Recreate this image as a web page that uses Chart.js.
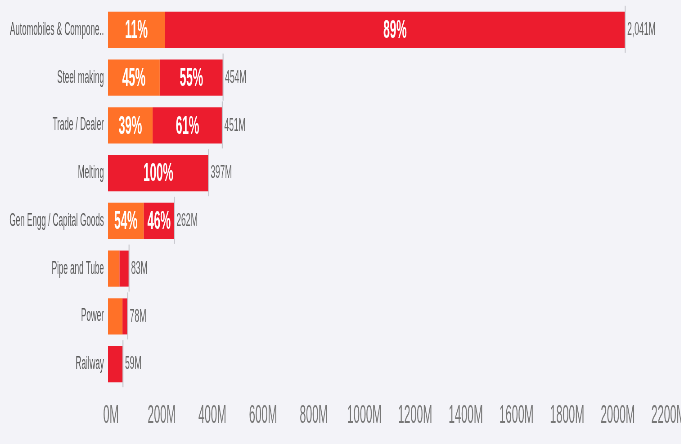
<!DOCTYPE html>
<html>
<head>
<meta charset="utf-8">
<script src="https://cdn.jsdelivr.net/npm/chart.js@4.4.1/dist/chart.umd.min.js"></script>
<style>
  html, body { margin: 0; padding: 0; background: #f3f3f8; overflow: hidden; }
  #wrap { width: 681px; height: 444px; overflow: hidden; }
  #sectors { transform-origin: 0 0; }
</style>
</head>
<body>
<div id="wrap"><canvas id="sectors"></canvas></div>
<script>
// Data (values in millions)
var sectors = ["Automobiles & Compone..", "Steel making", "Trade / Dealer", "Melting",
  "Gen Engg / Capital Goods", "Pipe and Tube", "Power", "Railway"];
var orangeValues = [224, 204, 176, 0, 141, 45, 57, 0];
var redValues = [1817, 250, 275, 397, 121, 38, 21, 59];
var xMax = 2200;
var xStep = 200;
// End Defining data

// the original picture is squeezed sideways, so draw wide and squeeze it back
var SQUISH = 0.45;
var W = Math.round(681 / SQUISH);
function px(n) { return n / SQUISH; }

var canvas = document.getElementById("sectors");
canvas.width = W;
canvas.height = 444;
canvas.style.transform = "scaleX(" + SQUISH + ")";

var totals = sectors.map(function (s, i) { return orangeValues[i] + redValues[i]; });

var barLabels = {
    id: 'barLabels',
    afterDatasetsDraw: function (chart) {
        var ctx = chart.ctx;
        var x = chart.scales.x;
        var metaO = chart.getDatasetMeta(0), metaR = chart.getDatasetMeta(1);
        ctx.save();
        sectors.forEach(function (s, i) {
            var bar = metaR.data[i];
            var end = x.getPixelForValue(totals[i]);
            var top = bar.y - bar.height / 2, bottom = bar.y + bar.height / 2;
            // total marker line
            ctx.strokeStyle = '#c6c6cc';
            ctx.lineWidth = px(1);
            ctx.beginPath();
            ctx.moveTo(end, top - 6);
            ctx.lineTo(end, bottom + 5);
            ctx.stroke();
            // total text
            ctx.fillStyle = '#666';
            ctx.font = "19px 'Liberation Sans', Arial, sans-serif";
            ctx.textAlign = 'left';
            ctx.textBaseline = 'middle';
            ctx.fillText(totals[i].toLocaleString('en-US') + 'M', end + px(2), bar.y);
            // percentages inside segments
            ctx.fillStyle = '#fff';
            ctx.font = "bold 26px 'Liberation Sans', Arial, sans-serif";
            ctx.textAlign = 'center';
            [metaO.data[i], metaR.data[i]].forEach(function (el, k) {
                var v = k === 0 ? orangeValues[i] : redValues[i];
                var w = Math.abs(el.x - el.base);
                if (v > 0 && w >= px(20)) {
                    ctx.fillText(Math.round(v / totals[i] * 100) + '%', (el.x + el.base) / 2, el.y + 1);
                }
            });
        });
        ctx.restore();
    }
};

var chart = new Chart(canvas.getContext('2d'), {
    type: 'bar',
    data: {
        labels: sectors,
        datasets: [
            {
                label: 'Orange',
                data: orangeValues,
                backgroundColor: '#ff7128',
                borderWidth: 0,
                categoryPercentage: 1,
                barPercentage: 0.755
            },
            {
                label: 'Red',
                data: redValues,
                backgroundColor: '#ec1c2e',
                borderWidth: 0,
                categoryPercentage: 1,
                barPercentage: 0.755
            }]
    },
    options: {
        indexAxis: 'y',
        responsive: false,
        animation: false,
        layout: { padding: { top: 6, right: W - px(665.5), left: 0, bottom: 0 } },
        plugins: { legend: { display: false }, tooltip: { enabled: false } },
        scales: {
            x: {
                stacked: true,
                min: 0,
                max: xMax,
                grid: { display: false, drawTicks: false },
                border: { display: false },
                ticks: {
                    stepSize: xStep,
                    padding: 13,
                    labelOffset: px(3),
                    maxRotation: 0,
                    autoSkip: false,
                    color: '#777',
                    font: { family: "'Liberation Sans Narrow', 'Liberation Sans', Arial, sans-serif", size: 25 },
                    callback: function (v) { return v + 'M'; }
                },
                afterFit: function (scale) {
                    scale.height = 56;
                    scale.paddingLeft = 0;
                    scale.paddingRight = 0;
                }
            },
            y: {
                stacked: true,
                grid: { display: false, drawTicks: false },
                border: { display: false },
                ticks: {
                    padding: px(4),
                    autoSkip: false,
                    color: '#5a5a5a',
                    font: { family: "'Liberation Sans', Arial, sans-serif", size: 18 }
                },
                afterFit: function (scale) {
                    scale.width = px(108);
                    scale.paddingTop = 0;
                    scale.paddingBottom = 0;
                }
            }
        }
    },
    plugins: [barLabels]
});
</script>
</body>
</html>
